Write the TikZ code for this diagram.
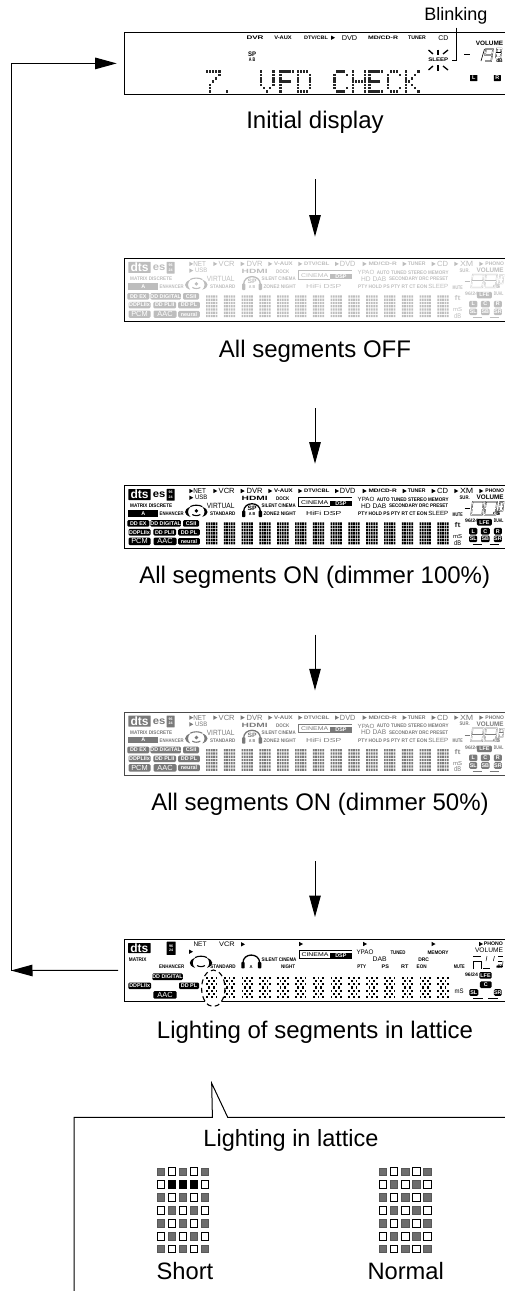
\documentclass[tikz,border=0pt]{standalone}
\usepackage{fontspec}
\usepackage{graphicx}
\setmainfont{Liberation Sans}
\usetikzlibrary{arrows.meta,positioning,calc}
\definecolor{VfdOff}{HTML}{BDBDBD}
\definecolor{VfdHalf}{HTML}{7A7A7A}
\definecolor{VfdEdge}{HTML}{4A4A4A}
\definecolor{CellGray}{HTML}{6E6E6E}
\tikzset{
  panelbox/.style={draw,line width=0.9pt,inner sep=0pt,outer sep=0pt,minimum width=395pt,minimum height=62.8pt,anchor=north west},
  caplab/.style={font=\fontsize{24}{24}\selectfont,anchor=base,inner sep=0pt,text height=17pt,text depth=5pt},
  flow/.style={line width=1pt,-{Triangle[length=21.5pt,width=11.5pt]}},
  seglab/.style={font=\bfseries,inner sep=0pt},
  seglarge/.style={font=\normalfont,inner sep=0pt},
  segbox/.style={fill,text=white,font=\fontsize{5.4}{5.4}\selectfont\bfseries,inner sep=0pt,rounded corners=1.2pt,minimum height=6.6pt},
  segdigit/.style={line width=0.35pt,double=white,double distance=0.55pt}
}
\newcommand{\seg}[3]{\resizebox{#1pt}{#2pt}{#3}}
\newcommand{\segtri}[2]{\fill (#1,#2-2.2) -- ++(4,2.2) -- ++(-4,2.2) -- cycle;}
% eight with hollow bars, cut on the right side of the page if need be
\newcommand{\segeight}[4]{\begin{scope}[shift={(#1,#2)},xslant=0.12]
    \draw[segdigit] (0,0) rectangle (#3,#4);
    \draw[segdigit] (0,#4/2) -- (#3,#4/2);
  \end{scope}}
\newcommand{\segswirl}[2]{\begin{scope}[shift={(#1,#2)}]
    \fill (5,1.8) .. controls (-2,4.5) and (-2,9.5) .. (5,11.8) .. controls (2,9) and (2,5) .. (5,1.8);
    \fill (17,1.8) .. controls (24,4.5) and (24,9.5) .. (17,11.8) .. controls (20,9) and (20,5) .. (17,1.8);
    \draw[line width=1.1pt] (5,1.6) .. controls (8,-0.3) and (14,-0.3) .. (17,1.6);
    \draw[line width=1.1pt] (7,9.5) .. controls (9,11) and (13,11) .. (15,9.5);
  \end{scope}}
\newcommand{\segphones}[2]{\begin{scope}[shift={(#1,#2)}]
    \draw[line width=1.3pt] (1.6,8) .. controls (1.6,-2.6) and (18.4,-2.6) .. (18.4,8);
    \fill[rounded corners=0.8pt] (0,7) rectangle (3.4,13.4);
    \fill[rounded corners=0.8pt] (16.6,7) rectangle (20,13.4);
  \end{scope}}
% one whole display, every segment in the same colour
\newcommand{\fullpanel}[4]{
  \node[panelbox,draw=#4] (#1) at (124.7,#2) {};
  \begin{scope}[shift={(124.7,#2)},color=#3]
    \foreach \tx/\ty in {64.6/5.3,64.6/12,88.6/5.3,116/5.3,143.6/5.3,173.6/5.3,210.3/5.3,238/5.3,278/5.3,307/5.3,329.6/5.3,354.6/5.3}{\segtri{\tx}{\ty}}
    \foreach \x/\y/\w/\h/\lab in {75/5.3/12.7/5/NET,76.5/12/12.3/4.5/USB,102/5.3/16/5.2/VCR,130/5.3/16/5.2/DVR,223/5.3/15.5/5.2/DVD,318/5.3/11/5.2/CD,342/5.3/13.3/5.2/XM,96/20.3/27.7/5.2/VIRTUAL,241.3/13.7/16.7/4.2/YPAO,249/20.3/25/4.6/HD DAB,313.6/28/20/4.2/SLEEP,199/28/35/4.2/HiFi DSP}{
      \node[seglarge] at (\x,\y) {\seg{\w}{\h}{\lab}};}
    \foreach \x/\y/\w/\lab in {158.7/5.3/18.7/V-AUX,192/5.3/25.3/{DTV/CBL},258/5.3/28.3/{MD/CD-R},292/5.3/17.7/TUNER,370/5.3/18.6/PHONO,158/13.3/13.3/DOCK,288/13.7/71.7/AUTO TUNED STEREO MEMORY,294/20.3/59/SECONDARY DRC PRESET,268/28/69/PTY HOLD PS PTY RT CT EON,26.5/20/42/MATRIX DISCRETE,47/28/24/ENHANCER,98/28/25.3/STANDARD,154/20.3/34/SILENT CINEMA,155/28/32.3/ZONE2 NIGHT,340/11.7/10/SUR.,333/28.7/10/MUTE,347/35.3/13/{96/24},374/35.3/9.5/DUAL}{
      \node[seglab] at (\x,\y) {\seg{\w}{3.6}{\lab}};}
    \node[seglab] at (130,12.7) {\seg{26}{4.2}{HDMI}};
    \node[seglab] at (365.5,11.7) {\seg{27}{4.6}{VOLUME}};
    \node[seglarge] at (333,39.3) {\seg{6}{5}{ft}};
    \node[seglarge] at (333,51) {\seg{9}{4}{mS}};
    \node[seglarge] at (333,57) {\seg{7}{5}{dB}};
    \node[seglab] at (372,27.7) {\seg{7}{4.4}{dB}};
    \node[segbox,minimum width=22.4pt,minimum height=11pt,font=\fontsize{12}{12}\selectfont\bfseries,rounded corners=0.5pt] at (14.8,8.8) {dts};
    \node[seglab] at (34.5,9.3) {\seg{12.5}{5.6}{es}};
    \node[segbox,minimum width=8pt,minimum height=11.7pt,align=center,font=\fontsize{3.6}{4.2}\selectfont\bfseries,rounded corners=0.4pt] at (46,9.1) {96\\24};
    \node[segbox,minimum width=30pt,minimum height=6.7pt,rounded corners=0pt] at (18.6,27.6) {A};
    \foreach \x/\y/\w/\lab in {13.6/37.7/22/DD EX,41/37.7/28/DD DIGITAL,66.3/37.7/16/CSII,14.8/46.5/22/DDPLIIx,40/46.5/22.7/DD PLII,64.3/46.5/21.7/DD PL,64.3/55.6/21.7/neural,359.7/36.5/15/LFE,348.5/45.5/8.3/L,360.6/45.5/9/C,373.2/45.5/8/R,348.5/53.2/8/SL,360.6/53.2/8.6/SB,373.2/53.2/8/SR}{
      \node[segbox,minimum width=\w pt] at (\x,\y) {\lab};}
    \foreach \x/\w/\lab in {14.8/22/PCM,40.3/23/AAC}{
      \node[segbox,minimum width=\w pt,minimum height=7.4pt,font=\fontsize{7.4}{7.4}\selectfont] at (\x,55.6) {\lab};}
    % cinema dsp frame
    \draw[line width=0.6pt] (227,11.7) -- (173.6,11.7) -- (173.6,20.3) -- (205.3,20.3);
    \node[seglarge] at (190,16.6) {\seg{27}{3.8}{CINEMA}};
    \node[segbox,minimum width=21.7pt,minimum height=5.3pt,rounded corners=0pt] at (216.2,17.6) {DSP};
    \segswirl{60.6}{19.3}
    \fill (71.7,25.2) circle[radius=1.9];
    \segphones{117.3}{18}
    \node[seglab] at (127.5,22.7) {\seg{9}{4.4}{SP}};
    \node[seglab] at (127.5,28.6) {\seg{6.5}{3}{A B}};
    % -88.8 at the right side
    \draw[line width=0.7pt] (340,22.7) -- (345.3,22.7);
    \segeight{348}{16}{11}{13}
    \segeight{361.3}{16}{11}{13}
    \fill (373.8,27.8) circle[radius=0.5];
    \segeight{375.3}{16.4}{3.6}{8.6}
    \draw[line width=0.8pt] (348,58.9) -- (357,58.9);
    \draw[line width=0.8pt] (365,58.9) -- (374,58.9);
    % 14 blocks of 5 x 7
    \fill \foreach \b in {0,...,13}{\foreach \r in {0,...,6}{\foreach \c in {0,...,4}{
      ({81.3+17.8*\b+2.4*\c},{36.7+3.25*\r}) rectangle ++(1.7,2.4)}}};
  \end{scope}}
\begin{document}
\begin{tikzpicture}[x=1pt,y=-1pt]
  \useasboundingbox (0,0) rectangle (504,1291);
  % initial display
  \node[panelbox] (pnlinit) at (124.7,32) {};
  \foreach \x/\y/\w/\lab in {255/37.7/17/DVR,283/37.7/17.5/V-AUX,316/37.7/24/{DTV/CBL},383/37.7/30/{MD/CD-R},417/37.7/17.7/TUNER,438.3/60/20/SLEEP,252/60/6.5/A B}{
    \node[seglab] at (\x,\y) {\seg{\w}{3.6}{\lab}};}
  \node[seglarge] at (443.3,37.7) {\seg{10}{4.8}{CD}};
  \node[seglarge] at (349.5,37.7) {\seg{15.5}{4.8}{DVD}};
  \segtri{331}{37.7}
  \node[seglab] at (252,53.8) {\seg{8}{4.6}{SP}};
  \node[seglab] at (489.5,43.5) {\seg{27.5}{4.4}{VOLUME}};
  \node[seglab] at (499.5,61) {\seg{6.5}{3.8}{dB}};
  \node[segbox,minimum width=7.4pt,minimum height=6pt,rounded corners=0.4pt] at (473.7,78) {L};
  \node[segbox,minimum width=7pt,minimum height=6pt,rounded corners=0.4pt] at (497.3,78) {R};
  \foreach \xa/\ya/\xb/\yb in {438/49.5/438/55,428.5/50/433/54,448/50/443/54,438/65/438/70.5,428.5/70/433/66,448/70/443/66}{
    \draw[line width=1.3pt] (\xa,\ya) -- (\xb,\yb);}
  \draw[line width=0.7pt] (464,54.5) -- (470,54.5);
  \draw[line width=0.6pt] (484.5,49) -- (481,61);
  \begin{scope}[shift={(486,49)},xslant=0.15]
    \draw[segdigit] (7,6) -- (0,6) -- (0,0) -- (7,0) -- (7,12) -- (1,12);
  \end{scope}
  \segeight{497}{48.5}{4.5}{9}
  % dot matrix of the big text
  \foreach \cx/\rows in {206/{31,1,2,4,8,8,8},220/{0,0,0,0,0,0,4},260/{17,17,17,17,17,10,4},279.3/{31,16,16,30,16,16,16},296.7/{30,17,17,17,17,17,30},333.3/{14,17,16,16,16,17,14},351.7/{17,17,17,31,17,17,17},368.3/{31,16,16,30,16,16,31},386.7/{14,17,16,16,16,17,14},405/{17,18,20,24,20,18,17}}{
    \foreach \rw [count=\j] in \rows {
      \foreach \c in {1,...,5}{
        \pgfmathtruncatemacro{\bit}{mod(floor(\rw/2^(5-\c)),2)}
        \ifnum\bit=1 \fill[black!85] ({\cx+3.05*(\c-1)},{67+3.3*\j}) rectangle ++(2.3,2.6);\fi}}}
  \node[font=\fontsize{18}{18}\selectfont,anchor=base,inner sep=0pt,text depth=4pt] (blinklab) at (456,20.5) {Blinking};
  \coordinate (blinkpt) at (451.7,60);
  \draw[line width=0.7pt,shorten <=3pt] (blinklab.south) |- (blinkpt);
  \node[caplab] (capinit) at (315,128) {Initial display};
  % the three full displays
  \fullpanel{pnloff}{258.6}{VfdOff}{black}
  \node[caplab] (capoff) at (315,357) {All segments OFF};
  \fullpanel{pnlfull}{485.7}{black}{black}
  \node[caplab] (capfull) at (314.7,583.5) {All segments ON (dimmer 100\%)};
  \fullpanel{pnlhalf}{712.3}{VfdHalf}{VfdEdge}
  \node[caplab] (caphalf) at (320,810) {All segments ON (dimmer 50\%)};
  % lattice display
  \node[panelbox] (pnllat) at (124.7,939) {};
  \foreach \tx/\ty in {189/951.7,241/944.3,299/944,363/944,431.5/944,479/944}{\segtri{\tx}{\ty}}
  \foreach \x/\y/\w/\lab in {493.3/944/19/PHONO,398/952.7/15/TUNED,438/952.7/21/MEMORY,423.7/960/10.7/DRC,361.7/966.7/8.7/PTY,385.3/966.7/7.3/PS,404.7/966.7/7.3/RT,421.7/966.7/10/EON,459.3/966.7/11/MUTE,137.7/959.3/17.7/MATRIX,171.7/966.7/25/ENHANCER,223/966.7/25.3/STANDARD,279/959.3/35/SILENT CINEMA,288/966.7/14/NIGHT,471.5/975/13/{96/24},499.5/966.7/6.5/dB}{
    \node[seglab] at (\x,\y) {\seg{\w}{3.6}{\lab}};}
  \foreach \x/\y/\w/\lab in {200/944/13/NET,227/944.3/15.7/VCR,489/950.7/28/VOLUME,365/952.7/17/YPAO,379.7/959.3/14/DAB,459/991/9/mS}{
    \node[seglarge] at (\x,\y) {\seg{\w}{4.6}{\lab}};}
  \node[segbox,minimum width=22.6pt,minimum height=10pt,font=\fontsize{12}{12}\selectfont\bfseries,rounded corners=0.5pt] at (139.4,948) {dts};
  \node[segbox,minimum width=9pt,minimum height=13.2pt,align=center,font=\fontsize{3.6}{4.4}\selectfont\bfseries,rounded corners=0.4pt] at (171.2,948.3) {96\\24};
  \foreach \x/\y/\w/\lab in {167.5/976.7/28.4/DD DIGITAL,139.7/985.8/22.7/DDPLIIx,189/985.8/20/DD PL,485.5/975.3/12.4/LFE,485.8/984.7/11.7/C,473.8/992.5/9/SL,497.8/992.5/7.7/SR}{
    \node[segbox,minimum width=\w pt] at (\x,\y) {\lab};}
  \node[segbox,minimum width=23.4pt,minimum height=7.6pt,font=\fontsize{7.4}{7.4}\selectfont] at (165,994.8) {AAC};
  \draw[line width=0.6pt] (351.7,950.7) -- (299,950.7) -- (299,958.7) -- (331,958.7);
  \node[seglarge] at (315,955) {\seg{27}{3.8}{CINEMA}};
  \node[segbox,minimum width=21.7pt,minimum height=5.4pt,rounded corners=0pt] at (340.8,955.9) {DSP};
  \segswirl{190}{956}
  \segphones{241.3}{955}
  \node[seglab] at (251,966.5) {\seg{3}{3}{A}};
  \foreach \xa/\ya/\xb/\yb in {473/956/481/956,473.3/969/473.3/961.7,473.3/961.7/481.7/961.7,481.7/961.7/481.7/969,483/968/490/968,487/956/486/961,494.5/956/493.3/961,497.5/961/502/961,498/956/503/956,503/961/502.5/966,497/966/502.5/966}{
    \draw[line width=0.5pt] (\xa,\ya) -- (\xb,\yb);}
  \draw[line width=0.8pt] (473,998.4) -- (482.7,998.4);
  \draw[line width=0.8pt] (488,998.4) -- (497.7,998.4);
  % dashed ring over the first block
  \fill[white] (213.3,988.3) ellipse (11.7 and 18.3);
  \draw[line width=1.1pt,dash pattern=on 5pt off 3.6pt] (213.3,988.3) ellipse (11.7 and 18.3);
  \foreach \b in {0,...,13}{
    \foreach \r in {0,...,6}{
      \foreach \c in {0,...,4}{
        \pgfmathtruncatemacro{\oddcell}{mod(\r+\c,2)}
        \ifnum\oddcell=0 \fill ({206+17.8*\b+2.4*\c},{976.5+3.25*\r}) rectangle ++(1.7,2.3);\fi}}}
  \node[caplab] (caplat) at (315,1038) {Lighting of segments in lattice};
  % connectors
  \coordinate (flowx) at (315,0);
  \foreach \from/\to in {capinit/pnloff,capoff/pnlfull,capfull/pnlhalf,caphalf/pnllat}{
    \draw[flow,shorten <=46pt,shorten >=22pt] (\from.south -| flowx) -- (flowx |- \to.north);}
  \coordinate (cornerlow) at (11,970.5);
  \coordinate (cornerup) at (11,63.4);
  \draw[flow,shorten <=6.5pt] (pnllat.west) -- (cornerlow);
  \draw[flow,shorten >=8pt] (cornerlow) -- (cornerup) -- (pnlinit.west);
  % call out
  \draw[line width=1pt] (74,1291) -- (74,1117.3) -- (212.4,1117.3) -- (211.7,1083.3) -- (227.7,1117.3) -- (510,1117.3);
  \node[font=\fontsize{23.5}{24}\selectfont,anchor=base,inner sep=0pt] (callhead) at (291,1146) {Lighting in lattice};
  \foreach \gx in {157,379.3}{
    \foreach \r in {0,...,6}{
      \foreach \c in {0,...,4}{
        \pgfmathtruncatemacro{\oddcell}{mod(\r+\c,2)}
        \ifnum\oddcell=0 \filldraw[draw=CellGray!80!black,fill=CellGray,line width=0.6pt] ({\gx+11.08*\c},{1167.8+12.85*\r}) rectangle ++(7.4,7.8);
        \else \draw[line width=0.7pt] ({\gx+11.08*\c},{1167.8+12.85*\r}) rectangle ++(7.4,7.8);\fi}}}
  \foreach \c in {1,2,3}{\filldraw[line width=0.6pt] ({157+11.08*\c},{1167.8+12.85}) rectangle ++(7.4,7.8);}
  \node[font=\fontsize{23.7}{24}\selectfont,anchor=base,inner sep=0pt] (capshort) at (185,1279) {Short};
  \node[font=\fontsize{23.7}{24}\selectfont,anchor=base,inner sep=0pt] (capnormal) at (405.7,1279) {Normal};
\end{tikzpicture}
\end{document}
